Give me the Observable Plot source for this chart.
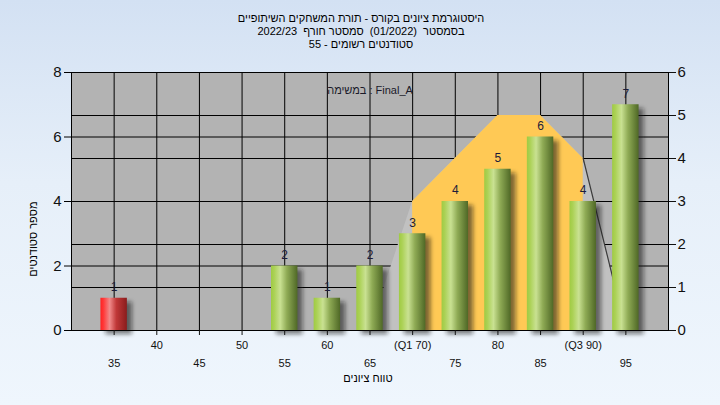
<!DOCTYPE html>
<html>
<head>
<meta charset="utf-8">
<script src="https://cdn.jsdelivr.net/npm/d3@7"></script>
<script src="https://cdn.jsdelivr.net/npm/@observablehq/plot@0.6"></script>
<style>
  html, body { margin: 0; padding: 0; width: 720px; height: 405px; overflow: hidden; }
  body { background: linear-gradient(to bottom, #d3e1f3 0%, #e6eff9 45%, #eff6fd 100%); }
  svg { display: block; background: transparent !important; }
</style>
</head>
<body>
<div id="chart"></div>
<script>
// ---- data ----
const grades = [35, 55, 60, 65, 70, 75, 80, 85, 90, 95];
const counts = [1, 2, 1, 2, 3, 4, 5, 6, 4, 7];
const polyX = [65, 70, 75, 80, 85, 90, 95];
const polyY = [0, 3, 4, 5, 5, 4, 0];          // in right-axis units
const q1 = 70, q3 = 90;
const passGrade = 55;
const leftTicks = [0, 2, 4, 6, 8];
const rightTicks = [0, 1, 2, 3, 4, 5, 6];
const xTicksUpper = [40, 50, 60, 70, 80, 90];
const xLabelsUpper = ["40", "50", "60", "(Q1 70)", "80", "(Q3 90)"];
const xTicksLower = [35, 45, 55, 65, 75, 85, 95];
const titleLines = [
  "היסטוגרמת ציונים בקורס - תורת המשחקים השיתופיים",
  "בסמסטר  (01/2022)  סמסטר חורף  2022/23",
  "סטודנטים רשומים - 55"
];
const taskText = "במשימה : Final_A";
const yTitle = "מספר סטודנטים";
const xTitle = "טווח ציונים";

// ---- build ----
const k = 8 / 6; // right axis -> left axis
const bars = grades.map((g, i) => ({grade: g, count: counts[i]}));
const poly = polyX.map((x, i) => ({x, y: polyY[i] * k}));
const half = 1.55;
const font = "'Liberation Sans', 'DejaVu Sans', Arial, sans-serif";
const gridY = Array.from(new Set([...leftTicks, ...rightTicks.map(v => v * k)]));
const gridX = [...xTicksLower, ...xTicksUpper].sort((a, b) => a - b);
const upperMap = new Map(xTicksUpper.map((t, i) => [t, xLabelsUpper[i]]));

const svg = Plot.plot({
  width: 720,
  height: 405,
  marginLeft: 71,
  marginRight: 52,
  marginTop: 72,
  marginBottom: 75,
  style: {fontFamily: font, background: "transparent", color: "#111"},
  x: {domain: [30, 100], axis: null},
  y: {domain: [0, 8], axis: null},
  marks: [
    Plot.frame({fill: "#b3b3b3"}),
    Plot.ruleX(gridX, {stroke: "#000", strokeWidth: 1}),
    Plot.ruleY(gridY, {stroke: "#000", strokeWidth: 1}),
    Plot.areaY(poly, {x: "x", y: "y", fill: "#c1c1c1"}),
    Plot.areaY(poly.filter(d => d.x >= q1 && d.x <= q3), {x: "x", y: "y", fill: "#ffc955"}),
    Plot.line(poly.filter(d => d.x >= q3), {x: "x", y: "y", stroke: "#3c3c3c", strokeWidth: 1.2}),
    // shadows
    Plot.rectY(bars, {x1: d => d.grade - half, x2: d => d.grade + half, y: "count", fill: "#1a1a1a", fillOpacity: 0.55, dx: 5, dy: 4}),
    Plot.rectY(bars.filter(d => d.grade < passGrade), {x1: d => d.grade - half, x2: d => d.grade + half, y: "count", fill: "#fe0001"}),
    Plot.rectY(bars.filter(d => d.grade >= passGrade), {x1: d => d.grade - half, x2: d => d.grade + half, y: "count", fill: "#00fe01"}),
    Plot.text(bars, {x: "grade", y: "count", text: d => String(d.count), dy: -11, fontSize: 12, fill: "#1c1c3a"}),
    Plot.frame({stroke: "#000"}),
    Plot.axisY(leftTicks, {anchor: "left", tickSize: 7, tickPadding: 3, fontSize: 15, label: null, stroke: "#000"}),
    Plot.axisY(rightTicks.map(v => v * k), {anchor: "right", tickSize: 7, tickPadding: 2, fontSize: 15, label: null, tickFormat: d => String(Math.round(d / k))}),
    Plot.axisX(xTicksUpper, {anchor: "bottom", tickSize: 5, tickPadding: 6, fontSize: 11, label: null, tickFormat: d => upperMap.get(d)}),
    Plot.axisX(xTicksLower, {anchor: "bottom", tickSize: 5, tickPadding: 24, fontSize: 11, label: null}),
    Plot.text([taskText], {frameAnchor: "top", dy: 14, fontSize: 11, fill: "#1a1a2a"}),
    Plot.text(titleLines, {frameAnchor: "top", dx: -9, text: d => d, fontSize: 11, fill: "#000002", lineAnchor: "middle"}),
    Plot.text([yTitle], {frameAnchor: "left", dx: -38, rotate: -90, fontSize: 11, fill: "#000003"}),
    Plot.text([xTitle], {frameAnchor: "bottom", dx: -2, dy: 51, fontSize: 11, fill: "#000003"})
  ]
});

// gradients & shadow blur
const s = d3.select(svg);
const defs = s.insert("defs", ":first-child");
const mk = (id, stops) => {
  const g = defs.append("linearGradient").attr("id", id).attr("x1", "0").attr("x2", "1").attr("y1", "0").attr("y2", "0");
  stops.forEach(([o, c]) => g.append("stop").attr("offset", o).attr("stop-color", c));
};
mk("gGreen", [[0, "#9fcb43"], [0.12, "#abd155"], [0.35, "#c9e192"], [0.6, "#8fab55"], [1, "#4f6826"]]);
mk("gRed", [[0, "#ff2222"], [0.12, "#ff3a3a"], [0.35, "#f08a8a"], [0.6, "#c03838"], [1, "#8a1c1c"]]);
defs.append("filter").attr("id", "blur").attr("x", "-50%").attr("y", "-10%").attr("width", "200%").attr("height", "130%")
  .append("feGaussianBlur").attr("stdDeviation", 2.2);

s.selectAll('g[fill="#1a1a1a"]').attr("filter", "url(#blur)");
s.selectAll('g[fill="#fe0001"]').attr("fill", "url(#gRed)");
s.selectAll('g[fill="#00fe01"]').attr("fill", "url(#gGreen)");

// titles: place as three lines and set RTL direction
const tg = s.selectAll('g[fill="#000002"]');
tg.attr("fill", "#000");
tg.selectAll("text").each(function(d, i) {
  const t = d3.select(this);
  t.attr("direction", "rtl").attr("unicode-bidi", "embed");
  const tr = t.attr("transform") || "";
  t.attr("transform", tr + ` translate(0,${-54 + i * 13})`);
});
s.selectAll('g[fill="#000003"]').attr("fill", "#000").selectAll("text").attr("direction", "rtl");

document.getElementById("chart").appendChild(svg);
</script>
</body>
</html>
